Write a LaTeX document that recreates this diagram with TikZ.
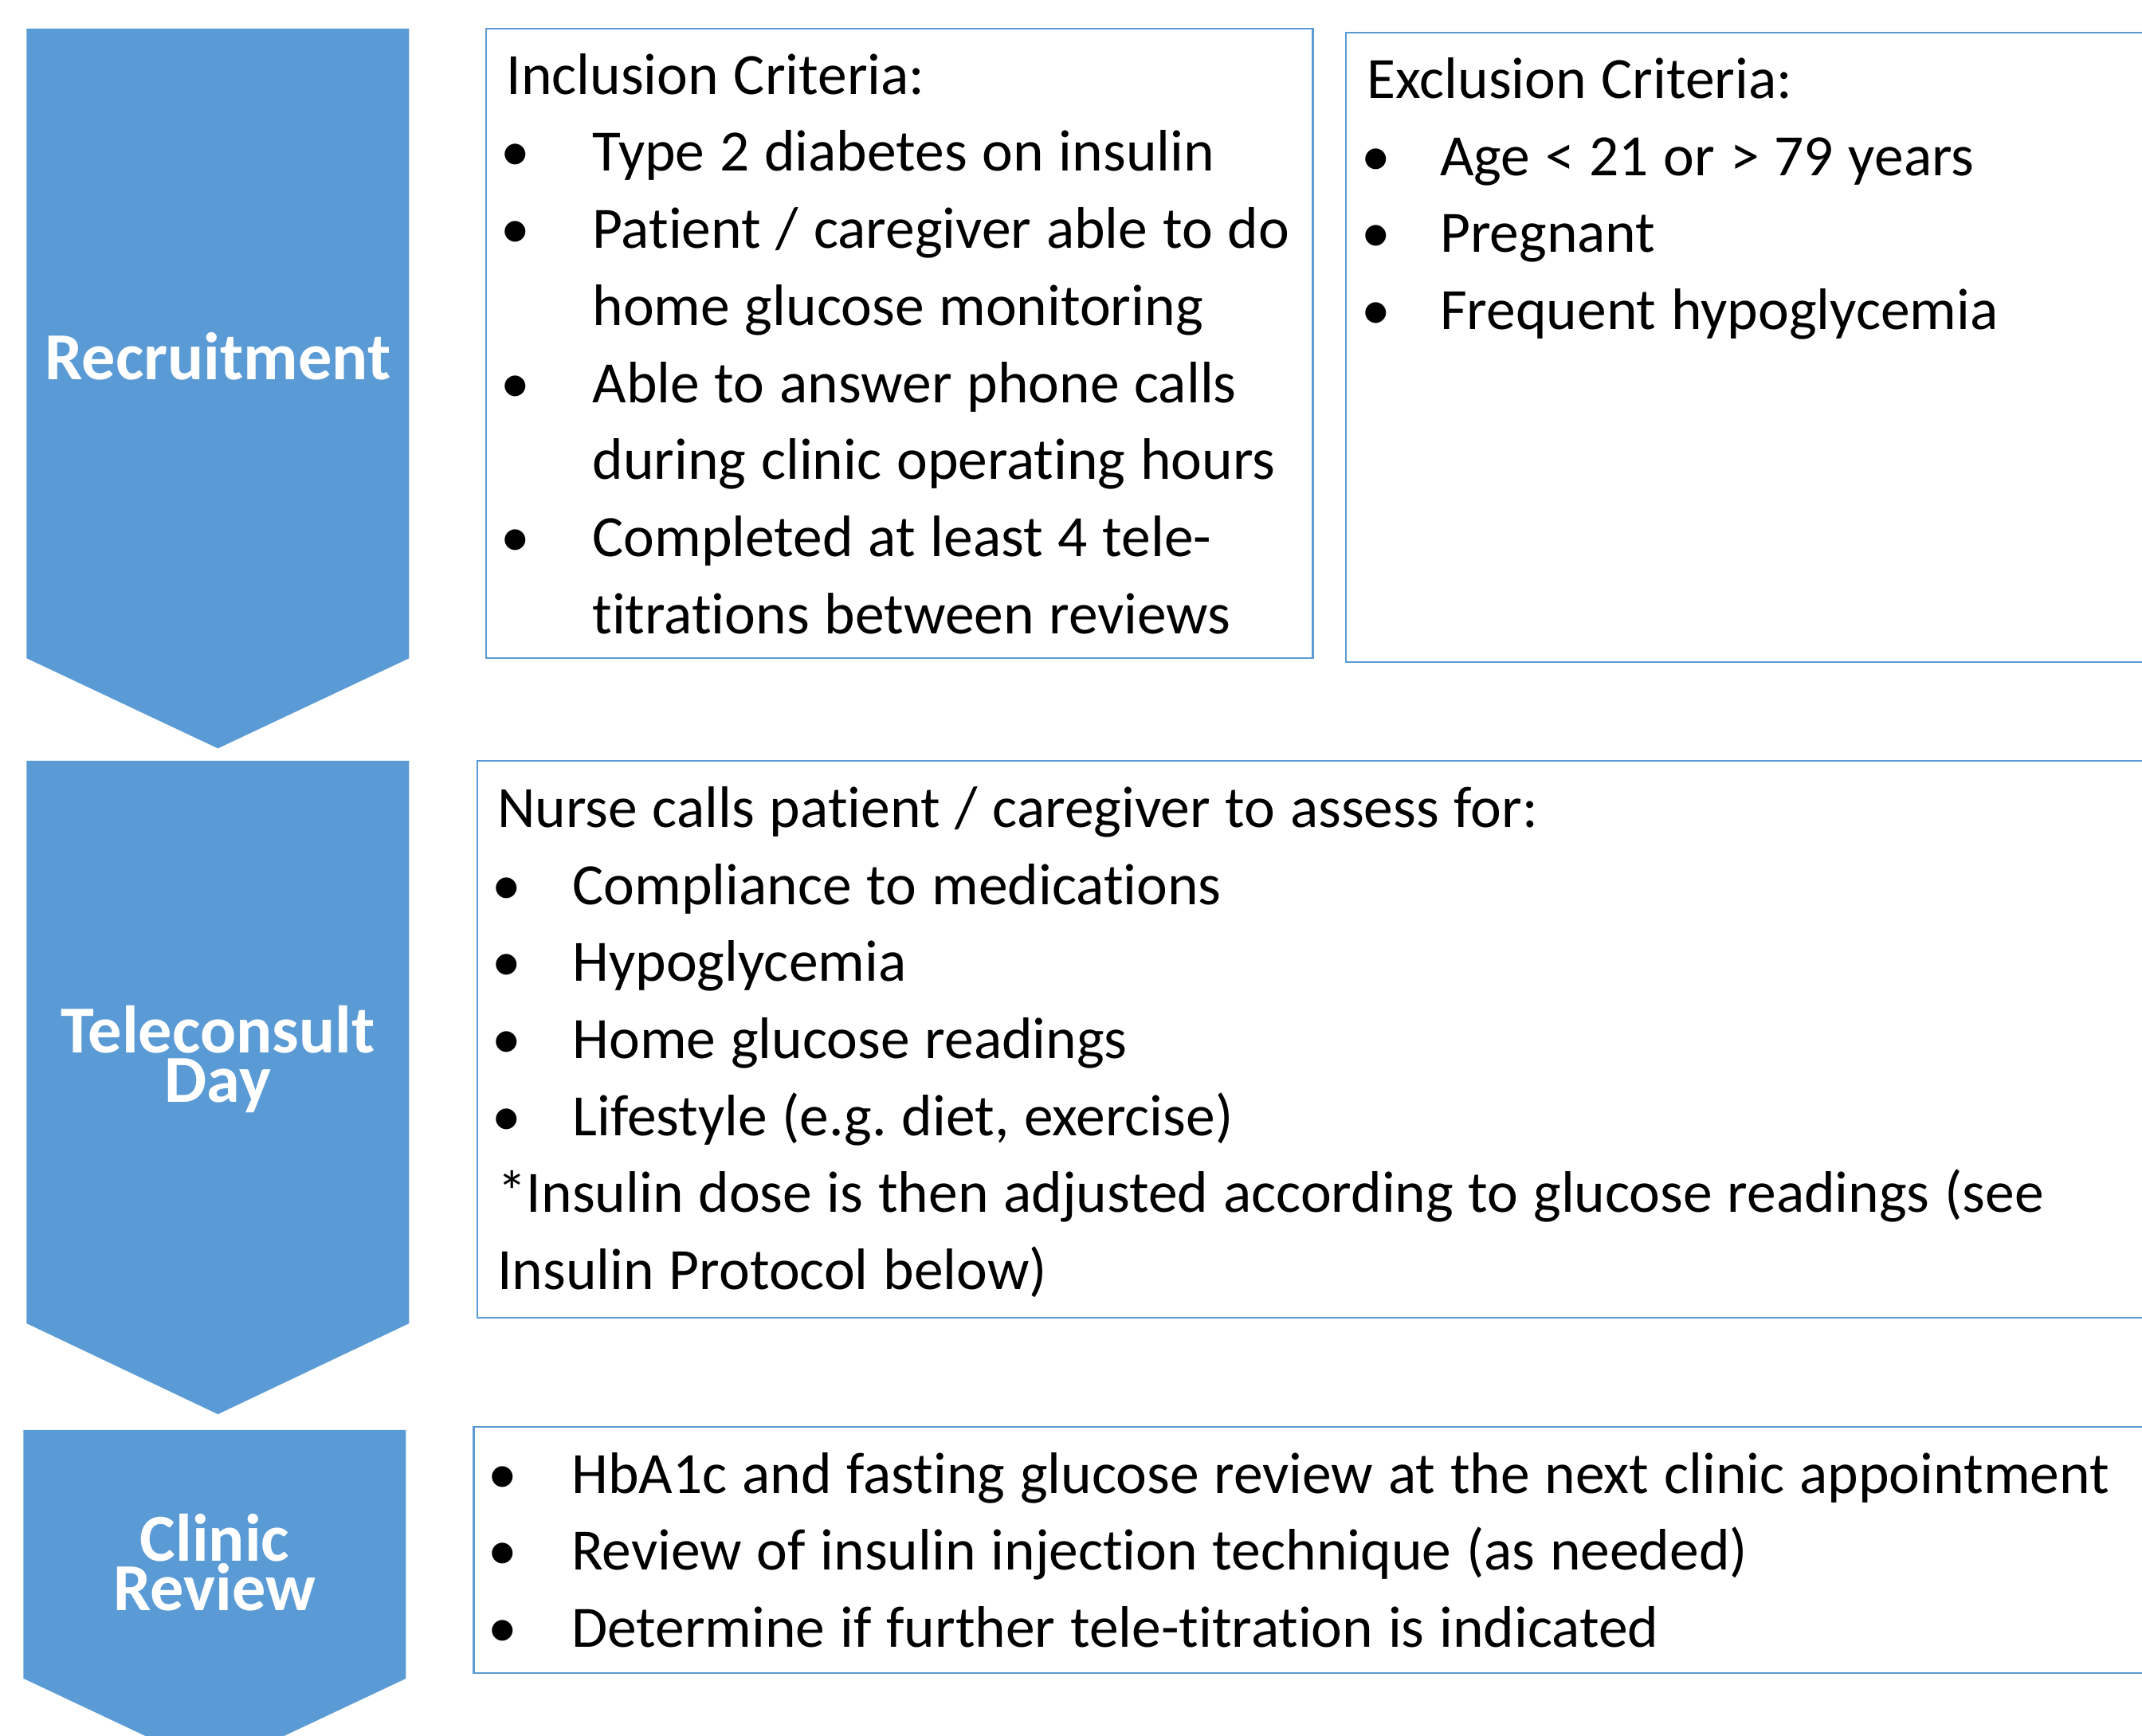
\documentclass[tikz,border=0pt]{standalone}
\usepackage{fontspec}
\setmainfont[Ligatures=NoCommon]{Carlito}
\frenchspacing
\definecolor{stageblue}{HTML}{5B9BD5}
\newlength{\bulind}
\newcommand{\bitem}[1]{\hangindent=\bulind\hangafter=1\makebox[\bulind][l]{\kern-0.04cm\textbullet}#1\par}

\begin{document}
\begin{tikzpicture}[
  stage/.style={fill=stageblue},
  stagelabel/.style={text=white,anchor=base,align=center,inner sep=0pt,font=\fontsize{14}{10.2}\selectfont\bfseries},
  listbox/.style={draw=stageblue,line width=0.35pt},
  % plain ragged text with a slightly wider word space
  listtext/.style={anchor=base west,inner sep=0pt,text width=14cm,
    font=\fontsize{12.2}{16.05}\selectfont,
    execute at begin node={\raggedright\spaceskip=0.256em\xspaceskip=0.256em\setlength{\bulind}{#1}}}]
\clip (0,0) rectangle (15.68,12.71);
% three stage chevrons
\fill[stage] (0.195,12.50) -- (2.995,12.50) -- (2.995,7.89) -- (1.595,7.23) -- (0.195,7.89) -- cycle;
\fill[stage] (0.195,7.14) -- (2.995,7.14) -- (2.995,3.02) -- (1.595,2.355) -- (0.195,3.02) -- cycle;
\fill[stage] (0.172,2.24) -- (2.972,2.24) -- (2.972,0.42) -- (1.572,-0.24) -- (0.172,0.42) -- cycle;
% labels sit on the baseline of their last line
\node[stagelabel] (recruit) at (1.595,9.93) {Recruitment};
\node[stagelabel] (teleconsult) at (1.595,4.64) {Teleconsult\\Day};
\node[stagelabel] (review) at (1.572,0.92) {Clinic\\Review};
% boxes, the wide ones run off the right edge
\draw[listbox] (3.556,12.50) rectangle (9.61,7.89);
\draw[listbox] (9.85,12.47) rectangle (16,7.86);
\draw[listbox] (3.495,7.14) rectangle (16,3.06);
\draw[listbox] (3.468,2.26) rectangle (16,0.46);
\node[listtext=0.63cm] (inclusion) at (3.70,12.02) {Inclusion Criteria:\par
  \bitem{Type 2 diabetes on insulin}
  \bitem{Patient / caregiver able to do\newline home glucose monitoring}
  \bitem{Able to answer phone calls\newline during clinic operating hours}
  \bitem{Completed at least 4 tele-\newline titrations between reviews}};
\node[listtext=0.535cm] (exclusion) at (10.00,11.99) {Exclusion Criteria:\par
  \bitem{Age < 21 or > 79 years}
  \bitem{Pregnant}
  \bitem{Frequent hypoglycemia}};
\node[listtext=0.55cm] (calls) at (3.635,6.653) {Nurse calls patient / caregiver to assess for:\par
  \bitem{Compliance to medications}
  \bitem{Hypoglycemia}
  \bitem{Home glucose readings}
  \bitem{Lifestyle (e.g. diet, exercise)}
  *Insulin dose is then adjusted according to glucose readings (see\newline Insulin Protocol below)};
\node[listtext=0.57cm] (checks) at (3.607,1.778) {%
  \bitem{HbA1c and fasting glucose review at the next clinic appointment}
  \bitem{Review of insulin injection technique (as needed)}
  \bitem{Determine if further tele-titration is indicated}};
\end{tikzpicture}
\end{document}
